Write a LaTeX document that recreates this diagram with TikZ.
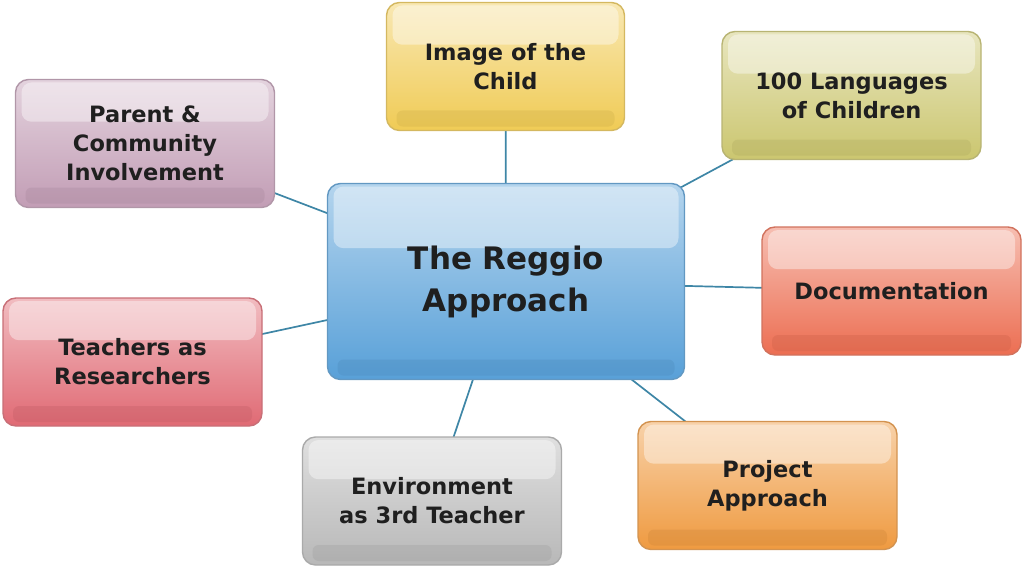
\documentclass[tikz,border=0pt]{standalone}
\usepackage{fontspec}
\setmainfont{DejaVu Sans}
\usetikzlibrary{calc,backgrounds}
\definecolor{cblue}{HTML}{58A0D8}
\definecolor{cyel}{HTML}{F0CB55}
\definecolor{colive}{HTML}{CBC66F}
\definecolor{cmauve}{HTML}{C29DB5}
\definecolor{cred}{HTML}{EC6E52}
\definecolor{cpink}{HTML}{E06A74}
\definecolor{cgrey}{HTML}{B8B8B8}
\definecolor{corange}{HTML}{EF9A40}
\definecolor{linec}{HTML}{3E86A6}
\tikzset{
 gbox/.style={draw=#1!75!gray, line width=1.4pt, rounded corners=13pt,
  top color=#1!45!white, bottom color=#1, align=center,
  font=\bfseries\fontsize{22.5}{29}\selectfont, text=black!88,
  path picture={
   \fill[white,opacity=0.4,rounded corners=10pt]
     ([xshift=6pt,yshift=-3pt]path picture bounding box.north west) rectangle
     ($([xshift=-6pt]path picture bounding box.north east)!0.33!([xshift=-6pt]path picture bounding box.south east)$);
   \fill[#1!85!black,opacity=0.3,rounded corners=6pt]
     ([xshift=10pt,yshift=4pt]path picture bounding box.south west) rectangle
     ([xshift=-10pt,yshift=20pt]path picture bounding box.south east);
  }},
 small/.style={minimum width=259pt, minimum height=128pt},
 conn/.style={draw=linec, line width=1.7pt}
}
\begin{document}
\begin{tikzpicture}[x=1pt,y=1pt]
\useasboundingbox (0,0) rectangle (1024,-567);
\node[gbox=cblue, minimum width=357pt, minimum height=196pt, font=\bfseries\fontsize{31}{42}\selectfont] (c) at (506,-281.5) {The Reggio\\Approach};
\node[gbox=cyel, minimum width=238pt, minimum height=128pt] (img) at (505.5,-66.5) {Image of the\\Child};
\node[gbox=colive, small] (lang) at (851.5,-95.5) {100 Languages\\of Children};
\node[gbox=cmauve, small] (par) at (145,-143.5) {Parent \&\\Community\\Involvement};
\node[gbox=cred, small] (doc) at (891.5,-291) {Documentation};
\node[gbox=cpink, small] (tea) at (132.5,-362) {Teachers as\\Researchers};
\node[gbox=cgrey, small] (env) at (432,-501) {Environment\\as 3rd Teacher};
\node[gbox=corange, small] (proj) at (767.5,-485.5) {Project\\Approach};
\begin{scope}[on background layer]
\foreach \n in {img,lang,par,doc,tea,env,proj} \draw[conn] (c.center) -- (\n.center);
\end{scope}
\end{tikzpicture}
\end{document}
